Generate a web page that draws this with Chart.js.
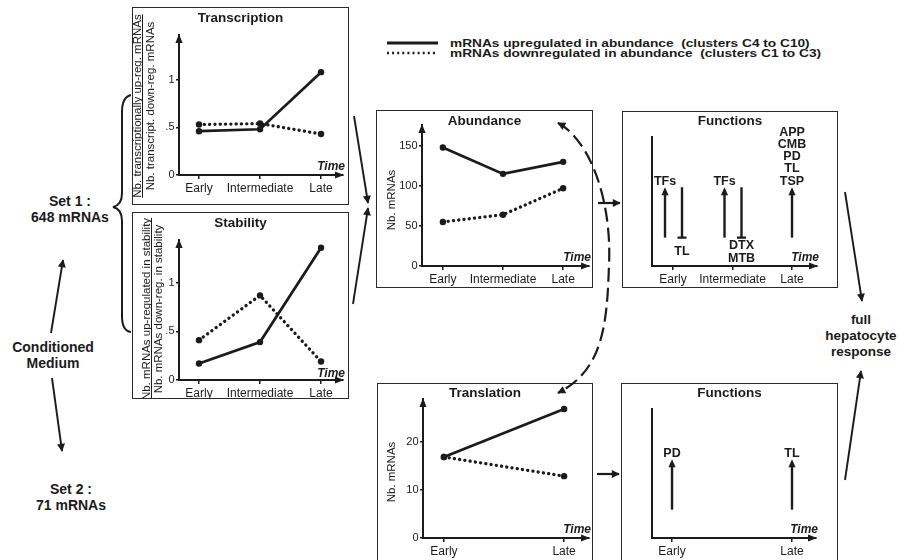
<!DOCTYPE html>
<html>
<head>
<meta charset="utf-8">
<script src="https://cdn.jsdelivr.net/npm/chart.js@4.4.1/dist/chart.umd.min.js"></script>
<style>
  html, body { margin: 0; padding: 0; background: #fff; }
  body { width: 899px; height: 560px; position: relative; overflow: hidden;
         font-family: "Liberation Sans", Arial, sans-serif; color: #1b1b1b; }
  .panel { position: absolute; }
  .panel canvas { display: block; }
  .frame { position: absolute; border: 1.6px solid #2a2a2a; box-sizing: border-box; pointer-events: none; }
  .lbl { position: absolute; font-weight: bold; text-align: center; white-space: pre; line-height: 16px; transform: translateX(-50%); }
  .legend { position: absolute; left: 450px; font-weight: bold; font-size: 11.5px; white-space: pre; line-height: 11px;
            transform: scaleX(1.19); transform-origin: 0 50%; }
  svg { position: absolute; left: 0; top: 0; }
</style>
</head>
<body>

<div class="panel" style="left:132px;top:7px;width:217px;height:198px"><canvas id="transcription" width="217" height="198"></canvas></div>
<div class="frame" style="left:132px;top:7px;width:217px;height:198px"></div>

<div class="panel" style="left:132px;top:212px;width:217px;height:187px"><canvas id="stability" width="217" height="187"></canvas></div>
<div class="frame" style="left:132px;top:212px;width:217px;height:187px"></div>

<div class="panel" style="left:376px;top:110px;width:217px;height:178px"><canvas id="abundance" width="217" height="178"></canvas></div>
<div class="frame" style="left:376px;top:110px;width:217px;height:178px"></div>

<div class="panel" style="left:622px;top:111px;width:216px;height:177px"><canvas id="functions1" width="216" height="177"></canvas></div>
<div class="frame" style="left:622px;top:111px;width:216px;height:177px"></div>

<div class="panel" style="left:377px;top:383px;width:216px;height:177px"><canvas id="translation" width="216" height="177"></canvas></div>
<div class="frame" style="left:377px;top:383px;width:216px;height:180px"></div>

<div class="panel" style="left:621px;top:383px;width:217px;height:177px"><canvas id="functions2" width="217" height="177"></canvas></div>
<div class="frame" style="left:621px;top:383px;width:217px;height:180px"></div>

<div class="legend" style="top:37.5px">mRNAs upregulated in abundance  (clusters C4 to C10)</div>
<div class="legend" style="top:48px">mRNAs downregulated in abundance  (clusters C1 to C3)</div>

<div class="lbl" style="left:70px;top:193px;font-size:14px">Set 1 :
648 mRNAs</div>
<div class="lbl" style="left:53px;top:339px;font-size:14px">Conditioned
Medium</div>
<div class="lbl" style="left:71px;top:481px;font-size:14px">Set 2 :
71 mRNAs</div>
<div class="lbl" style="left:861px;top:312px;font-size:13.5px">full
hepatocyte
response</div>

<svg width="899" height="560" viewBox="0 0 899 560">
  <defs>
    <marker id="ah" viewBox="0 0 10 10" refX="9" refY="5" markerUnits="userSpaceOnUse"
            markerWidth="9" markerHeight="8" orient="auto-start-reverse">
      <path d="M0,0 L10,5 L0,10 z" fill="#1b1b1b"/>
    </marker>
  </defs>
  <g stroke="#1b1b1b" fill="none">
    <line x1="387" y1="43" x2="438" y2="43" stroke-width="3"/>
    <line x1="387" y1="53" x2="438" y2="53" stroke-width="2.6" stroke-dasharray="2 3.1"/>
    <path d="M131 95 Q122 97 122 112 L122 193 Q122 205 113 207 Q122 209 122 221 L122 316 Q122 331 131 332" stroke-width="2"/>
    <line x1="51" y1="333" x2="63" y2="260" stroke-width="1.9" marker-end="url(#ah)"/>
    <line x1="52" y1="378" x2="62" y2="451" stroke-width="1.9" marker-end="url(#ah)"/>
    <line x1="354" y1="116" x2="368" y2="203" stroke-width="1.9" marker-end="url(#ah)"/>
    <line x1="353" y1="304" x2="368" y2="208" stroke-width="1.9" marker-end="url(#ah)"/>
    <line x1="598" y1="203" x2="620" y2="203" stroke-width="2.2" marker-end="url(#ah)"/>
    <line x1="597" y1="474" x2="619" y2="474" stroke-width="2.2" marker-end="url(#ah)"/>
    <line x1="845" y1="192" x2="862" y2="301" stroke-width="1.9" marker-end="url(#ah)"/>
    <line x1="845" y1="480" x2="861" y2="371" stroke-width="1.9" marker-end="url(#ah)"/>
    <path d="M558 123 C590 140 612 200 609 265 C607 325 603 370 558 393" stroke-width="2.2"
          stroke-dasharray="14 6" marker-start="url(#ah)" marker-end="url(#ah)"/>
  </g>
</svg>

<script>
const ink = "#1b1b1b";
Chart.defaults.font.family = '"Liberation Sans", Arial, sans-serif';
Chart.defaults.color = ink;

// categories
const timeCats = ["Early", "Intermediate", "Late"];
const translationCats = ["Early", "Late"];

// series (solid = upregulated in abundance, dotted = downregulated)
const transcriptionUp = [0.46, 0.48, 1.08];
const transcriptionDown = [0.53, 0.54, 0.43];
const stabilityUp = [0.17, 0.39, 1.36];
const stabilityDown = [0.41, 0.87, 0.19];
const abundanceUp = [148, 115, 130];
const abundanceDown = [55, 64, 97];
const translationUp = [16.9, 26.9];
const translationDown = [16.9, 12.9];

// tick labels
const ratioTicks = [0, 0.5, 1];
const ratioTickLabels = ["0", ".5", "1"];
const abundanceTicks = [0, 50, 100, 150];
const translationTicks = [0, 10, 20];

// functions enriched per time point
const set1UpFunctions = [["TFs"], ["TFs"], ["APP", "CMB", "PD", "TL", "TSP"]];
const set1DownFunctions = [["TL"], ["DTX", "MTB"], []];
const set2UpFunctions = [["PD"], ["TL"]];
const set2DownFunctions = [[], []];

function arrowUp(ctx, x, y, len, half) {
  ctx.beginPath();
  ctx.moveTo(x, y);
  ctx.lineTo(x - half, y + len);
  ctx.lineTo(x + half, y + len);
  ctx.closePath();
  ctx.fill();
}

function arrowRight(ctx, x, y, len, half) {
  ctx.beginPath();
  ctx.moveTo(x, y);
  ctx.lineTo(x - len, y - half);
  ctx.lineTo(x - len, y + half);
  ctx.closePath();
  ctx.fill();
}

// title, axis arrows, "Time" and rotated axis titles
const panelDecor = {
  id: "panelDecor",
  afterDraw(chart, args, o) {
    const { ctx, chartArea: a } = chart;
    ctx.save();
    ctx.fillStyle = ink;
    ctx.strokeStyle = ink;
    if (o.yArrow) arrowUp(ctx, a.left, a.top - 1, 9, 3.6);
    arrowRight(ctx, a.right + 1, a.bottom, 9, 3.6);

    ctx.font = 'bold 13.5px "Liberation Sans"';
    ctx.textAlign = "center";
    ctx.textBaseline = "middle";
    ctx.fillText(o.title, chart.width / 2, o.titleY);

    ctx.font = 'italic bold 12px "Liberation Sans"';
    ctx.textAlign = "right";
    ctx.textBaseline = "alphabetic";
    ctx.fillText("Time", a.right + 2, a.bottom - o.timeGap);

    if (o.yTitle) {
      const t = o.yTitle;
      ctx.font = t.size + 'px "Liberation Sans"';
      ctx.textAlign = "center";
      t.lines.forEach((line, i) => {
        ctx.save();
        ctx.translate(t.xs[i], t.cy);
        ctx.rotate(-Math.PI / 2);
        ctx.fillText(line, 0, 0);
        ctx.restore();
      });
      if (t.bar) {
        const w = ctx.measureText(t.lines[0]).width;
        ctx.lineWidth = 1;
        ctx.beginPath();
        ctx.moveTo(t.bar, t.cy - w / 2);
        ctx.lineTo(t.bar, t.cy + w / 2);
        ctx.stroke();
      }
    }
    ctx.restore();
  }
};

// up arrows and inhibition bars of the Functions panels
const functionMarks = {
  id: "functionMarks",
  afterDraw(chart, args, o) {
    if (!o.up) return;
    const { ctx } = chart;
    const xs = chart.scales.x;
    const ys = chart.scales.y;
    const yLow = ys.getPixelForValue(0.22);
    const yHigh = ys.getPixelForValue(0.61);
    const yAxis = ys.getPixelForValue(0);
    ctx.save();
    ctx.fillStyle = ink;
    ctx.strokeStyle = ink;
    ctx.lineWidth = 2.4;
    ctx.font = 'bold 12.5px "Liberation Sans"';
    ctx.textAlign = "center";
    ctx.textBaseline = "middle";
    o.up.forEach((labels, i) => {
      const down = o.down[i];
      const base = xs.getPixelForValue(i);
      if (labels.length) {
        const x = base + (down.length ? -8 : 0);
        ctx.beginPath();
        ctx.moveTo(x, yLow);
        ctx.lineTo(x, yHigh + 6);
        ctx.stroke();
        arrowUp(ctx, x, yHigh, 8, 3.6);
        labels.forEach((t, k) => {
          ctx.fillText(t, x, yHigh - 6 - (labels.length - 1 - k) * 12.3);
        });
      }
      if (down.length) {
        const x = base + 9;
        ctx.beginPath();
        ctx.moveTo(x, yHigh);
        ctx.lineTo(x, yLow);
        ctx.moveTo(x - 4.5, yLow);
        ctx.lineTo(x + 4.5, yLow);
        ctx.stroke();
        const mid = (yLow + yAxis) / 2;
        down.forEach((t, k) => {
          ctx.fillText(t, x, mid + (k - (down.length - 1) / 2) * 12.5);
        });
      }
    });
    ctx.restore();
  }
};

function xAxis(cats, min, max, h) {
  return {
    type: "linear",
    min: min,
    max: max,
    afterBuildTicks: (s) => { s.ticks = cats.map((c, i) => ({ value: i })); },
    afterFit: (s) => { s.height = h; },
    ticks: { callback: (v, i) => cats[i], font: { size: 12 }, padding: 2, maxRotation: 0, autoSkip: false },
    grid: { drawOnChartArea: false, tickLength: 4, color: ink, lineWidth: 1.5 },
    border: { display: true, color: ink, width: 2 }
  };
}

function yAxis(values, labels, max, w) {
  const show = values.length > 0;
  return {
    type: "linear",
    min: 0,
    max: max,
    afterBuildTicks: (s) => { s.ticks = values.map((v) => ({ value: v })); },
    afterFit: (s) => { s.width = w; },
    ticks: { display: show, callback: (v, i) => labels[i], font: { size: 11 }, padding: 1.5, autoSkip: false },
    grid: { display: show, drawOnChartArea: false, tickLength: 3, color: ink, lineWidth: 1.5 },
    border: { display: true, color: ink, width: 2 }
  };
}

function series(up, down) {
  const pts = (vals) => vals.map((v, i) => ({ x: i, y: v }));
  return [
    {
      label: "mRNAs upregulated in abundance",
      data: pts(up),
      borderColor: ink,
      backgroundColor: ink,
      borderWidth: 2.7,
      pointRadius: 3.2,
      pointBorderWidth: 0,
      clip: false
    },
    {
      label: "mRNAs downregulated in abundance",
      data: pts(down),
      borderColor: ink,
      backgroundColor: ink,
      borderWidth: 3.3,
      borderDash: [0.1, 5.2],
      borderCapStyle: "round",
      pointRadius: 3.2,
      pointBorderWidth: 0,
      clip: false
    }
  ];
}

function panel(id, cfg) {
  const cv = document.getElementById(id);
  return new Chart(cv.getContext("2d"), {
    type: "line",
    data: { datasets: cfg.datasets || [] },
    options: {
      responsive: false,
      animation: false,
      layout: { padding: { left: 0, bottom: 0, top: cfg.top, right: cv.width - cfg.right } },
      plugins: {
        legend: { display: false },
        tooltip: { enabled: false },
        panelDecor: cfg.decor,
        functionMarks: cfg.marks || {}
      },
      scales: { x: cfg.x, y: cfg.y }
    },
    plugins: [panelDecor, functionMarks]
  });
}

panel("transcription", {
  top: 28, right: 211,
  datasets: series(transcriptionUp, transcriptionDown),
  x: xAxis(timeCats, -0.328, 2.36, 30),
  y: yAxis(ratioTicks, ratioTickLabels, 1.47, 47),
  decor: {
    title: "Transcription", titleY: 11, yArrow: true, timeGap: 5,
    yTitle: {
      size: 11.5, cy: 99, xs: [8.5, 21.5], bar: 10.5,
      lines: ["Nb. transcriptionally up-reg. mRNAs", "Nb. transcript. down-reg. mRNAs"]
    }
  }
});

panel("stability", {
  top: 28, right: 211,
  datasets: series(stabilityUp, stabilityDown),
  x: xAxis(timeCats, -0.328, 2.36, 19),
  y: yAxis(ratioTicks, ratioTickLabels, 1.44, 47),
  decor: {
    title: "Stability", titleY: 11, yArrow: true, timeGap: 3,
    yTitle: {
      size: 11.5, cy: 97, xs: [17.5, 30], bar: 19.5,
      lines: ["Nb. mRNAs up-regulated in stability", "Nb. mRNAs down-reg. in stability"]
    }
  }
});

panel("abundance", {
  top: 15, right: 214,
  datasets: series(abundanceUp, abundanceDown),
  x: xAxis(timeCats, -0.347, 2.43, 22),
  y: yAxis(abundanceTicks, abundanceTicks.map(String), 176, 46),
  decor: {
    title: "Abundance", titleY: 11, yArrow: true, timeGap: 5,
    yTitle: { size: 11.5, cy: 90, xs: [19], lines: ["Nb. mRNAs"] }
  }
});

panel("translation", {
  top: 16, right: 213,
  datasets: series(translationUp, translationDown),
  x: xAxis(translationCats, -0.174, 1.207, 22),
  y: yAxis(translationTicks, translationTicks.map(String), 29, 46),
  decor: {
    title: "Translation", titleY: 10, yArrow: true, timeGap: 5,
    yTitle: { size: 11.5, cy: 89, xs: [18], lines: ["Nb. mRNAs"] }
  }
});

panel("functions1", {
  top: 26, right: 195,
  x: xAxis(timeCats, -0.353, 2.42, 22),
  y: yAxis([], [], 1, 30),
  decor: { title: "Functions", titleY: 10, yArrow: false, timeGap: 5 },
  marks: { up: set1UpFunctions, down: set1DownFunctions }
});

panel("functions2", {
  top: 26, right: 195,
  x: xAxis(translationCats, -0.167, 1.2, 22),
  y: yAxis([], [], 1, 31),
  decor: { title: "Functions", titleY: 10, yArrow: false, timeGap: 5 },
  marks: { up: set2UpFunctions, down: set2DownFunctions }
});
</script>
</body>
</html>
